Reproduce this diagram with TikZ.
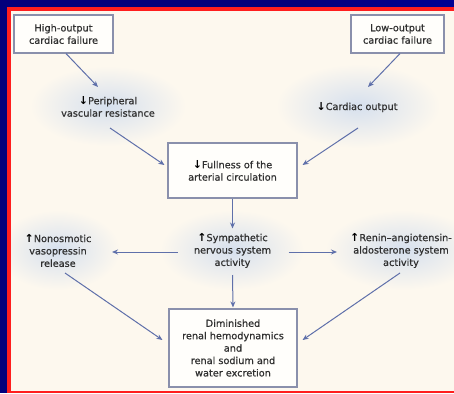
\documentclass[tikz,border=0pt]{standalone}
\usepackage{fontspec}
\setmainfont{DejaVu Sans}[FakeBold=0.7]
\newfontfamily\arrowfont{DejaVu Sans Bold}
\usetikzlibrary{arrows.meta,shadows}
\definecolor{navy}{HTML}{03007C}
\definecolor{frame}{HTML}{FF1E1E}
\definecolor{cream}{HTML}{FDF8EE}
\definecolor{boxfill}{HTML}{FFFEFB}
\definecolor{boxline}{HTML}{8A90AC}
\definecolor{ink}{HTML}{303030}
\definecolor{flow}{HTML}{5F70AA}
\definecolor{haze}{HTML}{D6E0EE}
\newcommand{\dn}{{\arrowfont\color{black}\fontsize{11}{12.4}\selectfont↓}}
\newcommand{\up}{{\arrowfont\color{black}\fontsize{11}{12.4}\selectfont↑}}
\tikzset{
  txt/.style={align=center, text=ink, font=\fontsize{9.7}{12.4}\selectfont, inner sep=0pt},
  stepbox/.style={txt, draw=boxline, line width=1.1pt, fill=boxfill,
    drop shadow={opacity=0.18, shadow xshift=1.2pt, shadow yshift=-1.2pt}},
  arr/.style={draw=flow, line width=1pt, -{Stealth[length=6pt,width=5pt]}},
  glow/.style={inner color=haze, outer color=cream}
}
\begin{document}
\begin{tikzpicture}[x=1pt,y=-1pt]
  \useasboundingbox (0,0) rectangle (454,393);
  \clip (0,0) rectangle (454,393);
  % slide background and framed panel
  \fill[navy] (0,0) rectangle (454,393);
  \shade[left color=navy, right color=navy!70!blue, opacity=0.6] (300,0) rectangle (454,7.5);
  \fill[frame] (7,7.5) rectangle (11,393);
  \fill[frame] (7,7.5) rectangle (454,11);
  \fill[frame] (7,391.3) rectangle (454,393);
  \fill[cream] (11,11) rectangle (454,391.3);
  % soft halos behind the free-standing labels
  \begin{scope}
    \clip (11,11) rectangle (454,391.3);
    \shade[glow] (108,106) ellipse [x radius=78, y radius=40];
    \shade[glow] (358,106) ellipse [x radius=82, y radius=42];
    \shade[glow] (58,250) ellipse [x radius=62, y radius=40];
    \shade[glow] (232,250) ellipse [x radius=72, y radius=40];
    \shade[glow] (403,250) ellipse [x radius=78, y radius=40];
  \end{scope}
  % nodes
  \node[stepbox, minimum width=99pt, minimum height=38pt] (hi) at (63.5,34) {High-output\\cardiac failure};
  \node[stepbox, minimum width=93pt, minimum height=38pt] (lo) at (397.5,34) {Low-output\\cardiac failure};
  \node[txt] (pvr) at (108,106.5) {\dn Peripheral\\vascular resistance};
  \node[txt] (co) at (357,107) {\dn Cardiac output};
  \node[stepbox, minimum width=129pt, minimum height=55pt] (full) at (232.5,170.5) {\dn Fullness of the\\arterial circulation};
  \node[txt] (nov) at (58,250.5) {\up Nonosmotic\\vasopressin\\release};
  \node[txt] (sns) at (232.5,250.5) {\up Sympathetic\\nervous system\\activity};
  \node[txt] (raas) at (401,250.5) {\up Renin–angiotensin-\\aldosterone system\\activity};
  \node[stepbox, minimum width=128pt, minimum height=78pt] (dim) at (233,348) {Diminished\\renal hemodynamics\\and\\renal sodium and\\water excretion};
  % connectors
  \draw[arr] ([xshift=2.5pt]hi.south) -- ([shift={(-10,-19.5)}]pvr.center);
  \draw[arr] ([xshift=2.5pt]lo.south) -- ([shift={(11,-20)}]co.center);
  \draw[arr] ([shift={(2,21.5)}]pvr.center) -- ([shift={(-3,-5.5)}]full.west);
  \draw[arr] ([shift={(1,21)}]co.center) -- ([shift={(5,-5.5)}]full.east);
  \draw[arr] (full.south) -- ([shift={(0,-22)}]sns.center);
  \draw[arr] ([shift={(-55,1.5)}]sns.center) -- ([shift={(54,1.5)}]nov.center);
  \draw[arr] ([shift={(56,1.5)}]sns.center) -- ([shift={(-64,1.5)}]raas.center);
  \draw[arr] ([shift={(7,22.5)}]nov.center) -- ([shift={(-6,-8)}]dim.west);
  \draw[arr] ([shift={(0,24.5)}]sns.center) -- ([yshift=1pt]dim.north);
  \draw[arr] ([shift={(-1,22.5)}]raas.center) -- ([shift={(5,-8)}]dim.east);
\end{tikzpicture}
\end{document}
